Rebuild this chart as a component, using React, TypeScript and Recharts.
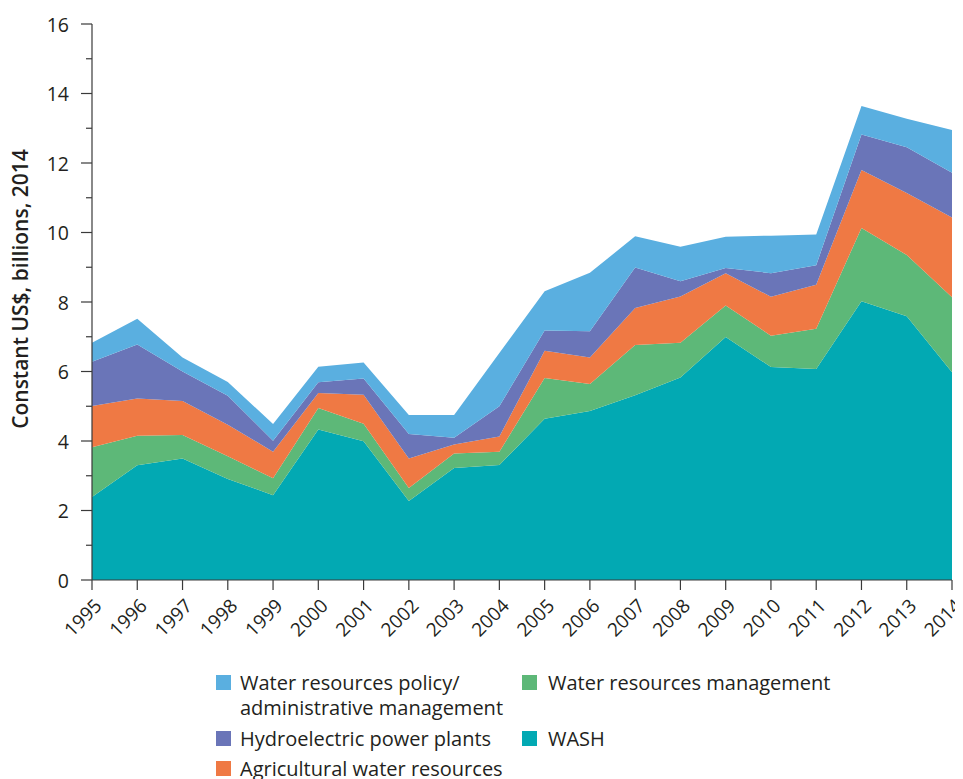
import React from 'react';
import { AreaChart, Area, XAxis, YAxis } from 'recharts';

const years = ['1995','1996','1997','1998','1999','2000','2001','2002','2003','2004','2005','2006','2007','2008','2009','2010','2011','2012','2013','2014'];
const wash = [2.39, 3.30, 3.50, 2.91, 2.44, 4.33, 3.99, 2.27, 3.22, 3.31, 4.64, 4.86, 5.32, 5.83, 6.99, 6.13, 6.07, 8.02, 7.59, 5.98];
const waterMgmt = [1.43, 0.85, 0.67, 0.65, 0.49, 0.62, 0.51, 0.38, 0.42, 0.38, 1.17, 0.78, 1.44, 1.00, 0.91, 0.90, 1.16, 2.11, 1.76, 2.16];
const agri = [1.19, 1.07, 0.98, 0.91, 0.76, 0.43, 0.83, 0.85, 0.26, 0.44, 0.79, 0.76, 1.07, 1.33, 0.93, 1.12, 1.27, 1.67, 1.79, 2.29];
const hydro = [1.27, 1.56, 0.85, 0.83, 0.32, 0.31, 0.47, 0.70, 0.19, 0.87, 0.58, 0.76, 1.16, 0.44, 0.15, 0.68, 0.56, 1.02, 1.31, 1.29];
const policy = [0.55, 0.74, 0.40, 0.40, 0.48, 0.45, 0.46, 0.55, 0.66, 1.53, 1.13, 1.68, 0.90, 0.99, 0.90, 1.08, 0.88, 0.82, 0.82, 1.23];
const yTicks = [0, 1, 2, 3, 4, 5, 6, 7, 8, 9, 10, 11, 12, 13, 14, 15, 16];

const series = [
  { key: 'wash', name: 'WASH', color: '#02a9b3', values: wash },
  { key: 'waterMgmt', name: 'Water resources management', color: '#5db878', values: waterMgmt },
  { key: 'agri', name: 'Agricultural water resources', color: '#ef7944', values: agri },
  { key: 'hydro', name: 'Hydroelectric power plants', color: '#6a75b8', values: hydro },
  { key: 'policy', name: 'Water resources policy/\nadministrative management', color: '#5aafe0', values: policy },
];

const data = years.map((year, i) => {
  const row: any = { year };
  series.forEach(s => { row[s.key] = s.values[i]; });
  return row;
});

const FONT = '"Open Sans", "Noto Sans", sans-serif';
const TEXT = '#231f20';
const AXIS = '#3a3a3a';

const YTick = (props: any) => {
  const { x, y, payload } = props;
  const major = payload.value % 2 === 0;
  return (
    <g>
      <line x1={x - (major ? 11 : 6)} x2={x} y1={y} y2={y} stroke={AXIS} strokeWidth={1.2} />
      {major && (
        <text x={x - 23} y={y} textAnchor="end" dominantBaseline="central" fontSize={19.5} fontFamily={FONT} fill={TEXT}>
          {payload.value}
        </text>
      )}
    </g>
  );
};

const XTick = (props: any) => {
  const { x, y, payload } = props;
  return (
    <g>
      <line x1={x} x2={x} y1={y} y2={y + 10} stroke={AXIS} strokeWidth={1.2} />
      <text
        x={x + 11}
        y={y + 27}
        textAnchor="end"
        fontSize={19}
        fontFamily={FONT}
        fill={TEXT}
        transform={`rotate(-45, ${x + 11}, ${y + 27})`}
      >
        {payload.value}
      </text>
    </g>
  );
};

const legendCol1 = [series[4], series[3], series[2]];
const legendCol2 = [series[1], series[0]];

const LegendItem = ({ s, top, left, gap }: any) => {
  const lines = s.name.split('\n');
  return (
    <div style={{ position: 'absolute', top, left, fontFamily: FONT, fontSize: 20, color: TEXT, lineHeight: '25px' }}>
      <div style={{ position: 'absolute', left: 0, top: 5, width: 15, height: 15, background: s.color }} />
      <div style={{ marginLeft: gap, whiteSpace: 'nowrap' }}>
        {lines.map((l: string, i: number) => <div key={i}>{l}</div>)}
      </div>
    </div>
  );
};

export default function App() {
  return (
    <div style={{ position: 'relative', width: 947, height: 771 }}>
      <style>{`.recharts-surface { overflow: visible; }`}</style>
      <AreaChart width={947} height={660} data={data} margin={{ top: 16, right: 3, left: 0, bottom: 0 }}>
        <XAxis
          dataKey="year"
          interval={0}
          height={88}
          tickSize={0}
          tickMargin={0}
          tickLine={false}
          axisLine={{ stroke: AXIS, strokeWidth: 1.2 }}
          tick={<XTick />}
          padding={{ left: 0, right: 0 }}
        />
        <YAxis
          width={84}
          domain={[0, 16]}
          ticks={yTicks}
          interval={0}
          tickSize={0}
          tickMargin={0}
          tickLine={false}
          axisLine={{ stroke: AXIS, strokeWidth: 1.2 }}
          tick={<YTick />}
          allowDataOverflow
        />
        {series.map(s => (
          <Area
            key={s.key}
            type="linear"
            dataKey={s.key}
            name={s.name}
            stackId="1"
            stroke="none"
            fill={s.color}
            fillOpacity={1}
            isAnimationActive={false}
          />
        ))}
        <text
          x={12}
          y={281}
          transform="rotate(-90, 12, 281)"
          textAnchor="middle"
          dominantBaseline="central"
          fontSize={21}
          fontWeight={600}
          fontFamily={FONT}
          fill={TEXT}
        >
          Constant US$, billions, 2014
        </text>
      </AreaChart>
      <LegendItem s={legendCol1[0]} top={662} left={208} gap={24} />
      <LegendItem s={legendCol1[1]} top={718} left={208} gap={24} />
      <LegendItem s={legendCol1[2]} top={748} left={208} gap={24} />
      <LegendItem s={legendCol2[0]} top={662} left={514} gap={26} />
      <LegendItem s={legendCol2[1]} top={718} left={514} gap={26} />
    </div>
  );
}
